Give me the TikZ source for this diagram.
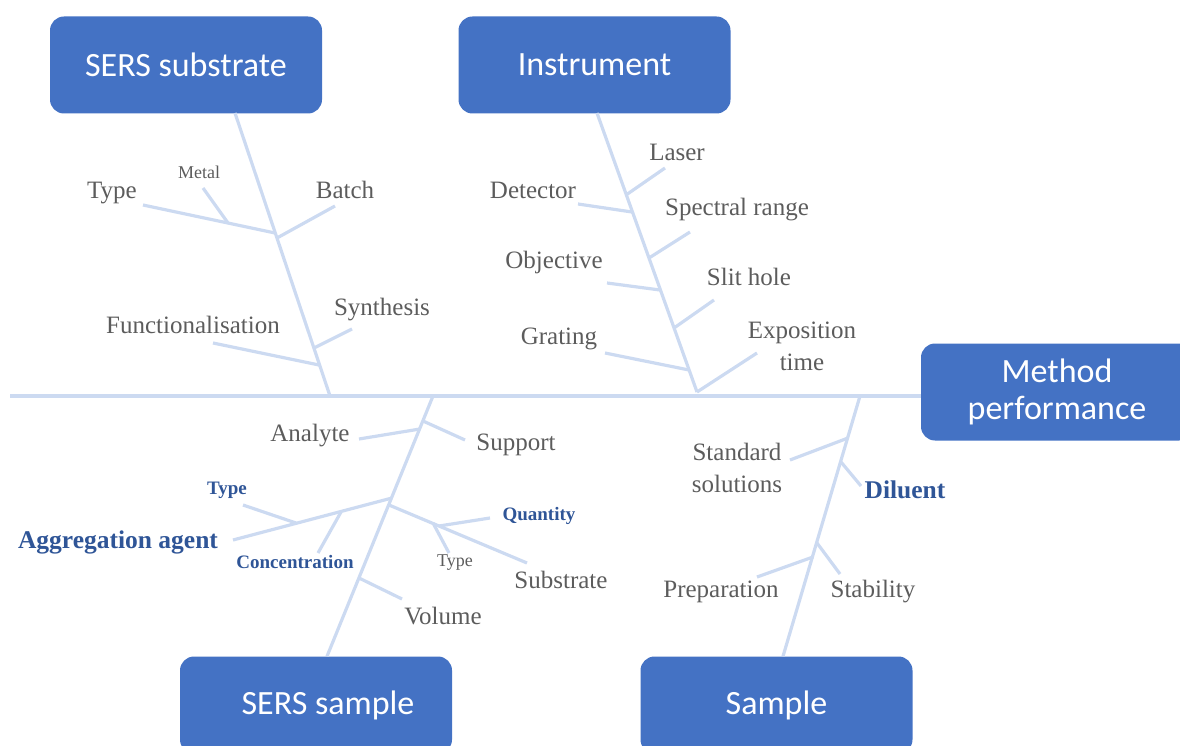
\documentclass[tikz,border=0pt]{standalone}
\usepackage{fontspec}
\setmainfont{Liberation Serif}
\newfontfamily\boxfont{Carlito}
\usetikzlibrary{positioning}
\definecolor{boxblue}{HTML}{4472C4}
\definecolor{bonecol}{HTML}{CCDAF1}
\definecolor{labgray}{HTML}{5C5C5C}
\definecolor{labblue}{HTML}{2F5597}

\begin{document}
\begin{tikzpicture}[x=1pt, y=-1pt,
      cause/.style={fill=boxblue, rounded corners=14pt, minimum width=272pt, minimum height=97pt, inner sep=0pt, text=white, align=center, font=\boxfont\fontsize{34}{37}\selectfont},
      bone/.style={draw=bonecol, line width=3.2pt},
      factor/.style={inner sep=0pt, align=center, text=labgray, font=\fontsize{25}{32}\selectfont},
      minor/.style={inner sep=0pt, text=labgray, font=\fontsize{18}{20}\selectfont},
      sub/.style={inner sep=0pt, text=labblue, font=\bfseries\fontsize{19}{21}\selectfont},
      key/.style={inner sep=0pt, text=labblue, font=\bfseries\fontsize{25.5}{30}\selectfont}
    ]
    \useasboundingbox (0,0) rectangle (1180,746);
    \clip (0,0) rectangle (1180,746);

    % main boxes
    \node[cause] (subst)   at (186,65)    {SERS substrate};
    \node[cause] (instr)   at (594.5,65)  {Instrument};
    \node[cause] (perf)    at (1057,392)  {Method\\performance};
    \node[cause] (ssample) at (316,705)   {\hspace*{24pt}SERS sample};
    \node[cause] (sample)  at (776.5,705) {Sample};

    % spine
    \coordinate (tail) at (10,396);
    \draw[bone] (tail) -- (tail -| perf.west);

    % SERS substrate
    \coordinate (s0) at (235,113);  \coordinate (s9) at (330,396);
    \coordinate (sT) at (275,233);  \coordinate (sTe) at (143,205);
    \coordinate (sM) at (228,223);  \coordinate (sMe) at (203,188);
    \coordinate (sB) at (277,238);  \coordinate (sBe) at (335,206);
    \coordinate (sF) at (319,365);  \coordinate (sFe) at (213,343);
    \coordinate (sS) at (314,348);  \coordinate (sSe) at (352,329);
    \draw[bone] (s0) -- (s9);
    \draw[bone] (sTe) -- (sT);
    \draw[bone] (sMe) -- (sM);
    \draw[bone] (sB) -- (sBe);
    \draw[bone] (sFe) -- (sF);
    \draw[bone] (sS) -- (sSe);
    \node[factor] (type1)  at (112,193) {Type};
    \node[minor]  (metal)  at (199,172) {Metal};
    \node[factor] (batch)  at (345,190) {Batch};
    \node[factor] (funct)  at (193,325) {Functionalisation};
    \node[factor] (synth)  at (382,310) {Synthesis};

    % Instrument
    \coordinate (i0) at (597,113);  \coordinate (i9) at (697,392);
    \coordinate (iL) at (626,195);  \coordinate (iLe) at (665,168);
    \coordinate (iD) at (632,212);  \coordinate (iDe) at (578,204);
    \coordinate (iS) at (649,258);  \coordinate (iSe) at (690,232);
    \coordinate (iO) at (660,290);  \coordinate (iOe) at (607,283);
    \coordinate (iH) at (674,328);  \coordinate (iHe) at (714,300);
    \coordinate (iG) at (689,370);  \coordinate (iGe) at (605,353);
    \coordinate (iEe) at (757,353);
    \draw[bone] (i0) -- (i9);
    \draw[bone] (iL) -- (iLe);
    \draw[bone] (iDe) -- (iD);
    \draw[bone] (iS) -- (iSe);
    \draw[bone] (iOe) -- (iO);
    \draw[bone] (iH) -- (iHe);
    \draw[bone] (iGe) -- (iG);
    \draw[bone] (i9) -- (iEe);
    \node[factor] (laser)  at (677,152) {Laser};
    \node[factor] (detect) at (533,190) {Detector};
    \node[factor] (spect)  at (737,210) {Spectral range};
    \node[factor] (object) at (554,262) {Objective};
    \node[factor] (slit)   at (749,277) {Slit hole};
    \node[factor] (grat)   at (559,339) {Grating};
    \node[factor] (expo)   at (802,346) {Exposition\\time};

    % SERS sample
    \coordinate (p0) at (433,396);  \coordinate (p9) at (ssample.north -| 327,0);
    \coordinate (pA) at (420,429);  \coordinate (pAe) at (359,439);
    \coordinate (pU) at (423,421);  \coordinate (pUe) at (465,440);
    \coordinate (pG) at (392,498);  \coordinate (pGe) at (233,540);
    \coordinate (pT) at (296,523);  \coordinate (pTe) at (243,505);
    \coordinate (pC) at (341,512);  \coordinate (pCe) at (318,553);
    \coordinate (pS) at (389,505);  \coordinate (pSe) at (527,563);
    \coordinate (pQ) at (439,526);  \coordinate (pQe) at (490,518);
    \coordinate (pY) at (433,523);  \coordinate (pYe) at (449,553);
    \coordinate (pV) at (359,578);  \coordinate (pVe) at (402,599);
    \draw[bone] (p0) -- (p9);
    \draw[bone] (pAe) -- (pA);
    \draw[bone] (pU) -- (pUe);
    \draw[bone] (pG) -- (pGe);
    \draw[bone] (pTe) -- (pT);
    \draw[bone] (pCe) -- (pC);
    \draw[bone] (pS) -- (pSe);
    \draw[bone] (pQ) -- (pQe);
    \draw[bone] (pY) -- (pYe);
    \draw[bone] (pV) -- (pVe);
    \node[factor] (analyte) at (310,436) {Analyte};
    \node[factor] (support) at (516,445) {Support};
    \node[sub]    (type2)   at (227,490) {Type};
    \node[key]    (aggr)    at (118,542) {Aggregation agent};
    \node[sub]    (conc)    at (295,562) {Concentration};
    \node[sub]    (quant)   at (539,516) {Quantity};
    \node[minor]  (type3)   at (455,563) {Type};
    \node[factor] (substr)  at (561,580) {Substrate};
    \node[factor] (volume)  at (443,616) {Volume};

    % Sample
    \coordinate (m0) at (860,396);  \coordinate (m9) at (sample.north -| 783,0);
    \coordinate (mS) at (848,438);  \coordinate (mSe) at (790,460);
    \coordinate (mD) at (841,462);  \coordinate (mDe) at (861,486);
    \coordinate (mP) at (813,557);  \coordinate (mPe) at (757,577);
    \coordinate (mT) at (817,543);  \coordinate (mTe) at (840,574);
    \draw[bone] (m0) -- (m9);
    \draw[bone] (mSe) -- (mS);
    \draw[bone] (mD) -- (mDe);
    \draw[bone] (mPe) -- (mP);
    \draw[bone] (mT) -- (mTe);
    \node[factor] (stand) at (737,468) {Standard\\solutions};
    \node[key]    (dilu)  at (905,490) {Diluent};
    \node[factor] (prep)  at (721,592) {Preparation};
    \node[factor] (stab)  at (873,592) {Stability};
  \end{tikzpicture}
\end{document}
